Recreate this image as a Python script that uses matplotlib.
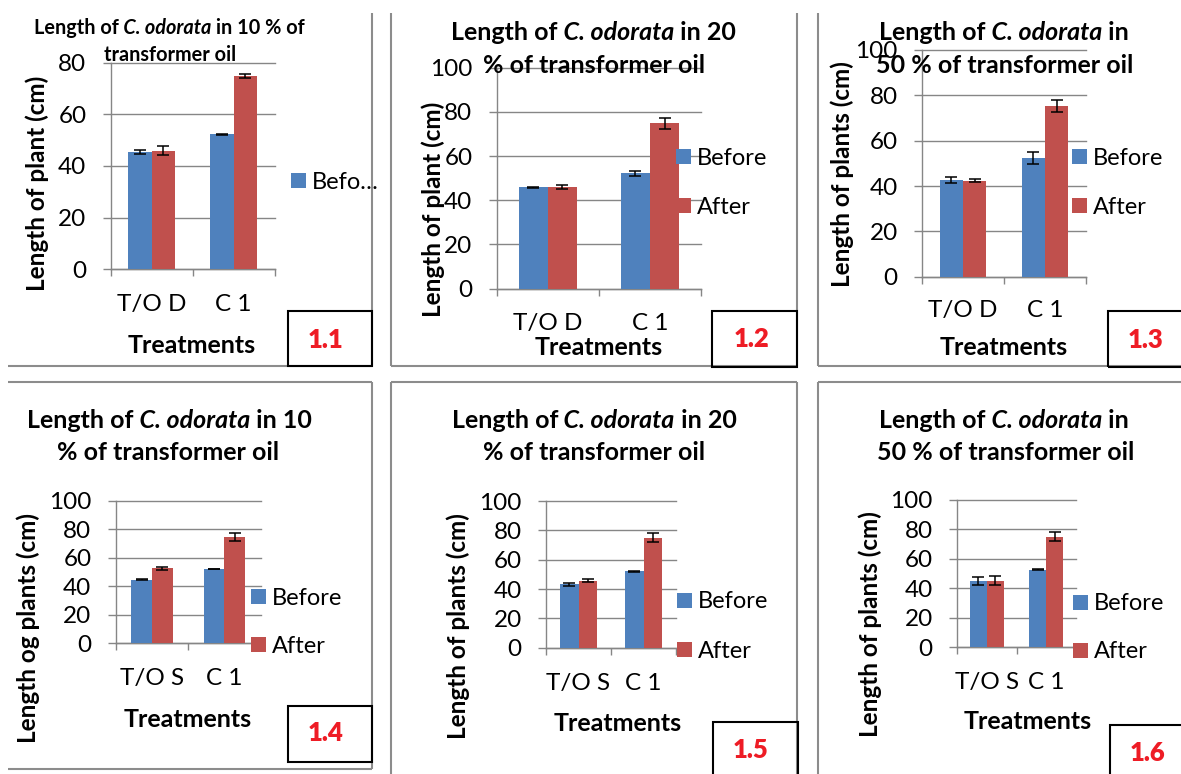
import matplotlib
matplotlib.use("Agg")
import matplotlib.pyplot as plt
from matplotlib.patches import Rectangle
from matplotlib.lines import Line2D
import numpy as np

W, H = 1181, 774
DPI = 100
PT = DPI / 72.0

plt.rcParams['font.family'] = ['Lato', 'DejaVu Sans']

# ---------------- data ----------------
series_names = ['Before', 'After']
cats_D = ['T/O D', 'C 1']
cats_S = ['T/O S', 'C 1']

before_11 = [45.5, 52.3]
before_err_11 = [0.8, 0.2]
after_11 = [46.0, 74.8]
after_err_11 = [1.8, 0.9]

before_12 = [45.9, 52.2]
before_err_12 = [0.3, 1.0]
after_12 = [45.9, 74.8]
after_err_12 = [0.9, 2.6]

before_13 = [42.6, 52.2]
before_err_13 = [1.2, 2.7]
after_13 = [42.4, 75.3]
after_err_13 = [0.6, 2.6]

before_14 = [44.7, 52.2]
before_err_14 = [0.2, 0.3]
after_14 = [52.7, 74.9]
after_err_14 = [1.2, 2.9]

before_15 = [43.2, 52.0]
before_err_15 = [1.2, 0.3]
after_15 = [45.7, 75.0]
after_err_15 = [1.2, 3.2]

before_16 = [44.8, 52.7]
before_err_16 = [2.9, 0.2]
after_16 = [45.2, 75.1]
after_err_16 = [2.8, 2.8]

BLUE = '#4F81BD'
RED = '#C0504D'
GRID = '#868686'
BORDER = '#8C8C8C'
LABEL_RED = '#EE1C25'

fig = plt.figure(figsize=(W / DPI, H / DPI), dpi=DPI)
fig.patch.set_facecolor('white')


def fx(x):
    return x / W


def fy(y):
    return 1 - y / H


TICK_FS = 17.5
LEG_FS = 17
YLAB_FS = 17.5
XLAB_FS = 18
TAG_FS = 18.5
ASC = 0.74 * TICK_FS * PT

panels = [
    dict(plot=(110.7, 62.7, 274.7, 269.3), ymax=80, cats=cats_D,
         before=before_11, before_err=before_err_11, after=after_11, after_err=after_err_11,
         xt_base=311.7, ylabel='Length of plant (cm)', ylab_pos=(37, 183),
         xlab_pos=(192, 352.7),
         title1=[('Length of', 'normal'), (' C. odorata', 'italic'), (' in 10 % of', 'normal')],
         title1_pos=(34, 34.3), title2='transformer oil', title2_pos=(170, 61), title_fs=14.3,
         legend=[('Befo…', BLUE)], leg_x=291, leg_cy=[180.5],
         box=(288, 311, 372, 366), tag='1.1', tag_pos=(326, 339.5)),
    dict(plot=(496.7, 67.7, 701, 288.7), ymax=100, cats=cats_D,
         before=before_12, before_err=before_err_12, after=after_12, after_err=after_err_12,
         xt_base=331, ylabel='Length of plant (cm)', ylab_pos=(433, 209),
         xlab_pos=(599, 355),
         title1=[('Length of', 'normal'), (' C. odorata', 'italic'), (' in 20', 'normal')],
         title1_pos=(451, 40), title2='% of transformer oil', title2_pos=(594, 72.7), title_fs=18,
         legend=[('Before', BLUE), ('After', RED)], leg_x=676, leg_cy=[156.5, 205.5],
         box=(712, 311, 797, 367), tag='1.2', tag_pos=(751.5, 339)),
    dict(plot=(922, 50, 1086, 276.7), ymax=100, cats=cats_D,
         before=before_13, before_err=before_err_13, after=after_13, after_err=after_err_13,
         xt_base=318, ylabel='Length of plants (cm)', ylab_pos=(842, 174),
         xlab_pos=(1004, 355),
         title1=[('Length of', 'normal'), (' C. odorata', 'italic'), (' in', 'normal')],
         title1_pos=(879, 40), title2='50 % of transformer oil', title2_pos=(1005, 72.7), title_fs=18,
         legend=[('Before', BLUE), ('After', RED)], leg_x=1072, leg_cy=[156.5, 205.5],
         box=(1108, 311, 1195, 367), tag='1.3', tag_pos=(1146, 340)),
    dict(plot=(115.7, 501, 260.7, 643.3), ymax=100, cats=cats_S,
         before=before_14, before_err=before_err_14, after=after_14, after_err=after_err_14,
         xt_base=685.7, ylabel='Length og plants (cm)', ylab_pos=(28, 628),
         xlab_pos=(188, 726.7),
         title1=[('Length of', 'normal'), (' C. odorata', 'italic'), (' in 10', 'normal')],
         title1_pos=(27, 427.7), title2='% of transformer oil', title2_pos=(168, 460), title_fs=18,
         legend=[('Before', BLUE), ('After', RED)], leg_x=251, leg_cy=[596.5, 644.5],
         box=(288, 706, 372, 762), tag='1.4', tag_pos=(326, 733)),
    dict(plot=(546, 501, 676, 647.7), ymax=100, cats=cats_S,
         before=before_15, before_err=before_err_15, after=after_15, after_err=after_err_15,
         xt_base=691, ylabel='Length of plants (cm)', ylab_pos=(458, 626),
         xlab_pos=(618, 731),
         title1=[('Length of', 'normal'), (' C. odorata', 'italic'), (' in 20', 'normal')],
         title1_pos=(452, 428), title2='% of transformer oil', title2_pos=(594, 460), title_fs=18,
         legend=[('Before', BLUE), ('After', RED)], leg_x=677, leg_cy=[600, 649],
         box=(713, 722, 798, 795), tag='1.5', tag_pos=(751, 750)),
    dict(plot=(957, 500, 1076, 647), ymax=100, cats=cats_S,
         before=before_16, before_err=before_err_16, after=after_16, after_err=after_err_16,
         xt_base=690, ylabel='Length of plants (cm)', ylab_pos=(870, 624),
         xlab_pos=(1028, 729),
         title1=[('Length of', 'normal'), (' C. odorata', 'italic'), (' in', 'normal')],
         title1_pos=(879, 428), title2='50 % of transformer oil', title2_pos=(1006, 460), title_fs=18,
         legend=[('Before', BLUE), ('After', RED)], leg_x=1073, leg_cy=[602, 650],
         box=(1110, 725, 1195, 795), tag='1.6', tag_pos=(1147.5, 753)),
]

# ---------------- panel borders ----------------
border_segments = [
    ((372, 13), (372, 366)), ((8, 366), (372, 366)),
    ((391, 13), (391, 366)), ((797, 13), (797, 366)), ((391, 366), (797, 366)),
    ((818, 13), (818, 366)), ((818, 366), (1181, 366)),
    ((8, 382), (372, 382)), ((372, 382), (372, 769)), ((8, 769), (372, 769)),
    ((391, 382), (797, 382)), ((391, 382), (391, 774)), ((797, 382), (797, 774)),
    ((818, 382), (1181, 382)), ((818, 382), (818, 774)),
]
for (x0, y0), (x1, y1) in border_segments:
    fig.add_artist(Line2D([fx(x0), fx(x1)], [fy(y0), fy(y1)], transform=fig.transFigure,
                          color=BORDER, lw=1.5, solid_capstyle='butt'))


def draw_panel(p):
    l, t, r, b = p['plot']
    ax = fig.add_axes([fx(l), fy(b), (r - l) / W, (b - t) / H])
    ax.patch.set_alpha(0)
    n = len(p['cats'])
    x = np.arange(n)
    w = 1 / 3.5
    ek = dict(ecolor='black', elinewidth=1.1, capsize=4, capthick=1.1, zorder=4)
    ax.bar(x - w / 2, p['before'], w, yerr=p['before_err'], color=BLUE, zorder=3,
           error_kw=ek, label=series_names[0])
    ax.bar(x + w / 2, p['after'], w, yerr=p['after_err'], color=RED, zorder=3,
           error_kw=ek, label=series_names[1])
    ax.set_xlim(-0.5, n - 0.5)
    ax.set_ylim(0, p['ymax'])
    ax.set_yticks(np.arange(0, p['ymax'] + 1, 20))
    ax.set_xticks(x, p['cats'])
    ax.set_xticks(np.arange(-0.5, n), minor=True)
    pad = (p['xt_base'] - b - ASC) / PT
    ax.tick_params(axis='x', which='major', length=0, labelsize=TICK_FS, pad=pad)
    ax.tick_params(axis='x', which='minor', length=5, color=GRID, width=1.0, direction='out')
    ax.tick_params(axis='y', length=5.5, color=GRID, width=1.0, labelsize=TICK_FS, pad=12)
    for s in ['top', 'right']:
        ax.spines[s].set_visible(False)
    for s in ['left', 'bottom']:
        ax.spines[s].set_color(GRID)
        ax.spines[s].set_linewidth(1.0)
    ax.set_axisbelow(True)
    ax.grid(axis='y', color=GRID, lw=1.0)
    for gl in ax.get_ygridlines():
        gl.set_clip_on(False)

    # title (mixed bold / bold-italic)
    tx, ty = p['title1_pos']
    fs = p['title_fs']
    prev = fig.text(fx(tx), fy(ty), p['title1'][0][0], fontsize=fs, fontweight='bold',
                    fontstyle=p['title1'][0][1], ha='left', va='baseline')
    for s, st in p['title1'][1:]:
        prev = ax.annotate(s, xy=(1, 0), xycoords=prev, fontsize=fs, fontweight='bold',
                           fontstyle=st, ha='left', va='bottom', annotation_clip=False)
    t2x, t2y = p['title2_pos']
    fig.text(fx(t2x), fy(t2y), p['title2'], fontsize=fs, fontweight='bold',
             ha='center', va='baseline')

    # axis titles
    yx, yy = p['ylab_pos']
    fig.text(fx(yx), fy(yy), p['ylabel'], rotation=90, fontsize=YLAB_FS, fontweight='bold',
             ha='center', va='center')
    xx, xy_ = p['xlab_pos']
    fig.text(fx(xx), fy(xy_), 'Treatments', fontsize=XLAB_FS, fontweight='bold',
             ha='center', va='baseline')

    # legend
    for (lab, col), cy in zip(p['legend'], p['leg_cy']):
        fig.add_artist(Rectangle((fx(p['leg_x']), fy(cy + 7.5)), 15 / W, 15 / H,
                                 transform=fig.transFigure, facecolor=col, edgecolor='none',
                                 zorder=5))
        fig.text(fx(p['leg_x'] + 21), fy(cy + 8.5), lab, fontsize=LEG_FS, ha='left',
                 va='baseline', zorder=5)

    # numbered box
    bx0, by0, bx1, by1 = p['box']
    fig.add_artist(Rectangle((fx(bx0), fy(by1)), (bx1 - bx0) / W, (by1 - by0) / H,
                             transform=fig.transFigure, fill=False, edgecolor='black',
                             lw=1.5, zorder=6))
    tgx, tgy = p['tag_pos']
    fig.text(fx(tgx), fy(tgy), p['tag'], color=LABEL_RED, fontsize=TAG_FS, fontweight='heavy',
             ha='center', va='center', zorder=7)


for p in panels:
    draw_panel(p)

fig.savefig('out.png', dpi=DPI)
